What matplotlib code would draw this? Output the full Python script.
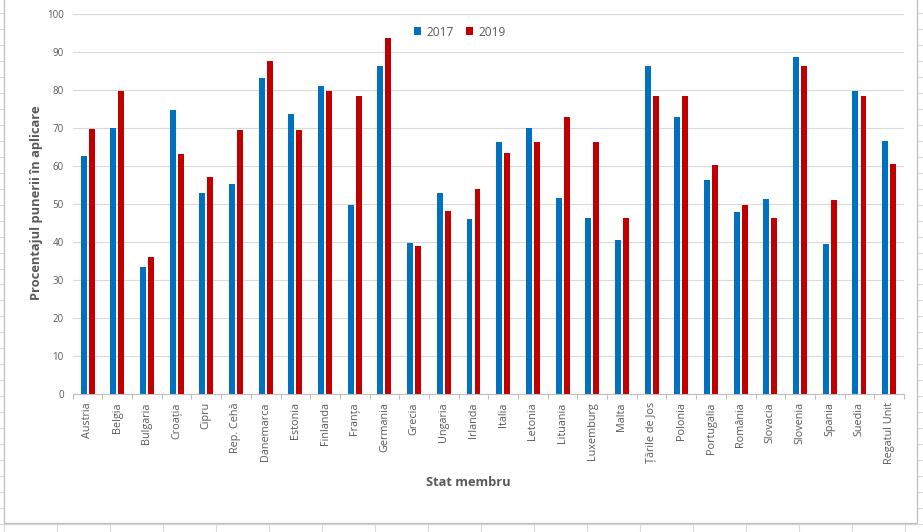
import matplotlib
matplotlib.use("Agg")
import matplotlib.pyplot as plt
from matplotlib.lines import Line2D
from matplotlib.patches import Rectangle, Patch
import numpy as np

countries = ["Austria", "Belgia", "Bulgaria", "Croația", "Cipru", "Rep. Cehă",
             "Danemarca", "Estonia", "Finlanda", "Franța", "Germania", "Grecia",
             "Ungaria", "Irlanda", "Italia", "Letonia", "Lituania", "Luxemburg",
             "Malta", "Țările de Jos", "Polonia", "Portugalia", "România",
             "Slovacia", "Slovenia", "Spania", "Suedia", "Regatul Unit"]
v2017 = [62.7, 70.0, 33.3, 74.7, 52.9, 55.3, 83.2, 73.7, 81.1, 49.7, 86.3, 39.7,
         52.9, 46.1, 66.3, 70.0, 51.6, 46.3, 40.5, 86.3, 72.9, 56.3, 47.9, 51.3,
         88.7, 39.5, 79.8, 66.6]
v2019 = [69.7, 79.8, 36.0, 63.2, 57.1, 69.5, 87.6, 69.5, 79.8, 78.4, 93.7, 38.9,
         48.2, 53.9, 63.4, 66.3, 72.9, 66.3, 46.3, 78.4, 78.4, 60.3, 49.7, 46.3,
         86.3, 51.1, 78.4, 60.5]
series_names = ["2017", "2019"]
yticks = [0, 10, 20, 30, 40, 50, 60, 70, 80, 90, 100]

W, H = 923, 532
FONT = "Open Sans"
TXT = "#595959"
BLUE = "#0070c0"
RED = "#c00000"

fig = plt.figure(figsize=(W / 100, H / 100), dpi=100)
fig.patch.set_facecolor("white")

# spreadsheet background grid
grid_c = "#d9d9d9"
for k in range(-1, 18):
    xx = 4 + 53.0 * k
    fig.add_artist(Line2D([xx / W, xx / W], [0, 1], color=grid_c, lw=0.8,
                          transform=fig.transFigure, zorder=0))
for k in range(-1, 35):
    yy = 13.3 + 15.95 * k
    fig.add_artist(Line2D([0, 1], [1 - yy / H, 1 - yy / H], color=grid_c, lw=0.8,
                          transform=fig.transFigure, zorder=0))

# chart area
fig.add_artist(Rectangle((4 / W, 1 - 522.5 / H), (916.5 - 4) / W, (522.5 + 2) / H,
                         transform=fig.transFigure, facecolor="white",
                         edgecolor="#bfbfbf", lw=0.9, zorder=1))

left, right, top, bottom = 72.7, 904.0, 14.0, 394.0
ax = fig.add_axes([left / W, 1 - bottom / H, (right - left) / W, (bottom - top) / H])
ax.set_zorder(2)
ax.patch.set_alpha(0)

n = len(countries)
x = np.arange(n)
bw = 0.2
off = 0.135
ax.bar(x - off, v2017, width=bw, color=BLUE, zorder=3, label=series_names[0])
ax.bar(x + off, v2019, width=bw, color=RED, zorder=3, label=series_names[1])

ax.set_xlim(-0.5, n - 0.5)
ax.set_ylim(0, 100)
ax.set_yticks(yticks)
ax.set_yticklabels([str(t) for t in yticks], fontsize=7.0, color=TXT, family=FONT)
ax.yaxis.grid(True, color="#d9d9d9", lw=0.8, zorder=0)
ax.tick_params(axis="y", length=0, pad=6.5)

ax.set_xticks(x)
ax.set_xticklabels(countries, rotation=90, fontsize=7.8, color=TXT, family=FONT,
                   va="top", ha="center")
ax.set_xticks(np.arange(-0.5, n), minor=True)
ax.tick_params(axis="x", which="major", length=0, pad=6)
ax.tick_params(axis="x", which="minor", length=3.5, color="#bfbfbf", width=0.8,
               direction="out")

for s in ["top", "right", "left"]:
    ax.spines[s].set_visible(False)
ax.spines["bottom"].set_color("#bfbfbf")
ax.spines["bottom"].set_linewidth(0.8)
ax.spines["bottom"].set_zorder(4)

fig.text(37 / W, 1 - 203 / H, "Procentajul punerii în aplicare", rotation=90,
         ha="center", va="center", fontsize=9.3, fontweight="bold", color=TXT,
         family=FONT)
fig.text(468 / W, 1 - 482 / H, "Stat membru", ha="center", va="center",
         fontsize=9.3, fontweight="bold", color=TXT, family=FONT)

handles = [Patch(facecolor=BLUE), Patch(facecolor=RED)]
leg = fig.legend(handles, series_names, loc="center", bbox_to_anchor=(460 / W, 1 - 32 / H),
                 ncol=2, frameon=False, handlelength=0.6,
                 handleheight=0.6, handletextpad=0.45, columnspacing=1.0,
                 prop={"family": FONT, "size": 8.6})
for t in leg.get_texts():
    t.set_color(TXT)
leg.set_zorder(5)

fig.savefig("out.png", dpi=100)
